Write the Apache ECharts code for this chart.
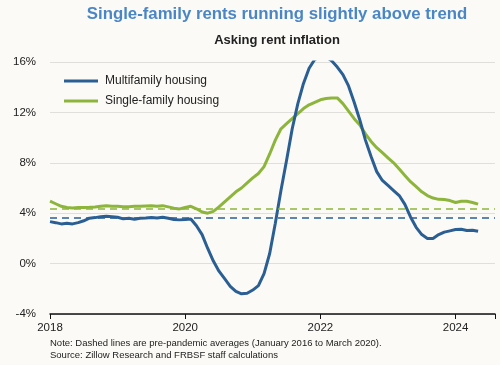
<!DOCTYPE html>
<html>
<head>
<meta charset="utf-8">
<script src="https://cdn.jsdelivr.net/npm/echarts@6/dist/echarts.min.js"></script>
<style>
html,body{margin:0;padding:0;background:#fbfaf6;}
#c{width:500px;height:365px;}
</style>
</head>
<body>
<div id="c"></div>
<script>
// Monthly data, Jan 2018 .. May 2024 (month index 0 = Jan 2018)
var startYear = 2018;
var multifamily = [3.33,3.25,3.15,3.2,3.15,3.25,3.4,3.6,3.65,3.72,3.76,3.72,
  3.68,3.55,3.6,3.52,3.6,3.62,3.65,3.62,3.68,3.6,3.5,3.47,
  3.5,3.54,3.0,2.3,1.2,0.2,-0.6,-1.2,-1.8,-2.2,-2.4,-2.35,
  -2.1,-1.75,-0.8,0.8,3.2,5.8,8.2,10.7,12.7,14.3,15.5,16.2,
  16.4,16.4,16.1,15.6,15.0,14.1,12.8,11.4,9.8,8.5,7.3,6.6,
  6.2,5.8,5.4,4.7,3.7,2.88,2.3,2.0,2.0,2.3,2.5,2.6,
  2.7,2.72,2.62,2.65,2.56];
var singlefamily = [4.95,4.75,4.55,4.45,4.42,4.45,4.45,4.47,4.5,4.55,4.6,4.55,
  4.55,4.52,4.52,4.55,4.55,4.58,4.6,4.55,4.6,4.5,4.4,4.34,
  4.45,4.55,4.35,4.1,4.0,4.15,4.5,4.9,5.3,5.7,6.0,6.4,
  6.8,7.15,7.7,8.7,9.8,10.7,11.1,11.5,11.9,12.3,12.6,12.8,
  13.0,13.1,13.15,13.15,12.7,12.1,11.5,11.0,10.3,9.7,9.2,8.8,
  8.4,8.0,7.5,7.0,6.5,6.1,5.7,5.4,5.2,5.1,5.08,5.0,
  4.85,4.95,4.95,4.85,4.72];
var multifamilyAvg = 3.6;
var singlefamilyAvg = 4.38;
var seriesNames = ['Multifamily housing','Single-family housing'];
var yTicks = [-4,0,4,8,12,16];
var xTickYears = [2018,2020,2022,2024];

var blue = '#2b5f94';
var green = '#8db53c';

function pairs(arr){ return arr.map(function(v,i){ return [i,v]; }); }

var chart = echarts.init(document.getElementById('c'), null, {renderer:'canvas'});
chart.setOption({
  backgroundColor: '#fbfaf6',
  animation: false,
  textStyle: {fontFamily: 'Liberation Sans, Arial, sans-serif'},
  title: [
    {text: 'Single-family rents running slightly above trend', left: 272, top: 1, textAlign: 'center',
     textStyle: {color: '#4a86c6', fontSize: 16.8, fontWeight: 'bold', fontFamily: 'Liberation Sans, Arial, sans-serif'}},
    {text: 'Asking rent inflation', left: 272, top: 29, textAlign: 'center',
     textStyle: {color: '#222', fontSize: 13, fontWeight: 'bold', fontFamily: 'Liberation Sans, Arial, sans-serif'}}
  ],
  legend: {
    orient: 'vertical', left: 59, top: 70, itemWidth: 34, itemHeight: 3, itemGap: 8,
    icon: 'rect',
    data: seriesNames,
    textStyle: {color: '#222', fontSize: 12, fontFamily: 'Liberation Sans, Arial, sans-serif', padding: [0,0,0,2]}
  },
  grid: {left: 50, right: 5, top: 62, bottom: 51},
  xAxis: {
    type: 'value', min: 0, max: 79, interval: 24,
    axisLine: {show: true, onZero: false, lineStyle: {color: '#111', width: 1.5}},
    axisTick: {show: true, length: 5, lineStyle: {color: '#111', width: 1}},
    splitLine: {show: false},
    showMaxLabel: false,
    axisLabel: {color: '#222', fontSize: 11.5, margin: 8,
      formatter: function(v){ return v % 12 === 0 ? String(startYear + v/12) : ''; }}
  },
  yAxis: {
    type: 'value', min: yTicks[0], max: yTicks[yTicks.length-1], interval: 4,
    axisLine: {show: false}, axisTick: {show: false},
    splitLine: {lineStyle: {color: '#e0dfdc', width: 1}},
    axisLabel: {color: '#222', fontSize: 11.5, margin: 14, formatter: '{value}%'}
  },
  series: [
    {name: seriesNames[0], type: 'line', data: pairs(multifamily), showSymbol: false, symbol: 'none',
     lineStyle: {color: blue, width: 3}, itemStyle: {color: blue}, z: 3,
     markLine: {silent: true, symbol: 'none', label: {show: false},
       lineStyle: {color: blue, type: [7,5], width: 1.5},
       data: [{yAxis: multifamilyAvg}]}},
    {name: seriesNames[1], type: 'line', data: pairs(singlefamily), showSymbol: false, symbol: 'none',
     lineStyle: {color: green, width: 3}, itemStyle: {color: green}, z: 2,
     markLine: {silent: true, symbol: 'none', label: {show: false},
       lineStyle: {color: green, type: [7,5], width: 1.5},
       data: [{yAxis: singlefamilyAvg}]}}
  ],
  graphic: [
    {type: 'text', left: 50, top: 338, style: {text: 'Note: Dashed lines are pre-pandemic averages (January 2016 to March 2020).', fill: '#222', fontSize: 9.5, fontFamily: 'Liberation Sans, Arial, sans-serif'}},
    {type: 'text', left: 50, top: 350, style: {text: 'Source: Zillow Research and FRBSF staff calculations', fill: '#222', fontSize: 9.5, fontFamily: 'Liberation Sans, Arial, sans-serif'}}
  ]
});
</script>
</body>
</html>
